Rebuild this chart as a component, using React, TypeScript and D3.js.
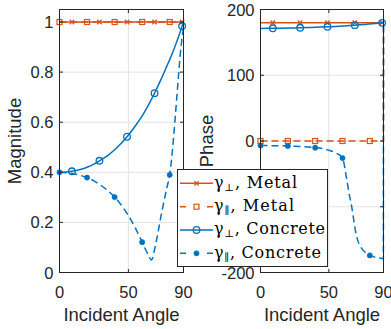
import React from 'react';
import * as d3 from 'd3';

// incident angle samples for the concrete curves (degrees)
const concreteAngles = [0, 5, 9, 15, 20, 25, 29, 35, 40, 45, 49, 55, 60, 63, 65, 66.5, 68, 69, 71, 73, 75, 78, 80, 82, 84, 86, 88, 89, 89.9, 90];
const concretePerpMag = [0.4, 0.401, 0.404, 0.411, 0.42, 0.433, 0.446, 0.467, 0.49, 0.517, 0.542, 0.585, 0.625, 0.653, 0.673, 0.689, 0.705, 0.716, 0.739, 0.763, 0.787, 0.825, 0.85, 0.877, 0.905, 0.935, 0.967, 0.984, 0.998, 1.0];
const concreteParMag = [0.4, 0.398, 0.395, 0.388, 0.379, 0.366, 0.352, 0.327, 0.301, 0.268, 0.236, 0.178, 0.121, 0.086, 0.064, 0.05, 0.065, 0.092, 0.145, 0.205, 0.262, 0.34, 0.39, 0.49, 0.62, 0.76, 0.89, 0.94, 0.978, 0.985];
const concretePerpPhase = [171.2, 171.3, 171.4, 171.6, 171.8, 172.0, 172.2, 172.6, 172.9, 173.3, 173.7, 174.3, 174.9, 175.3, 175.6, 175.8, 176.0, 176.2, 176.5, 176.8, 177.1, 177.6, 178.0, 178.3, 178.7, 179.1, 179.5, 179.7, 180, 180];
const concreteParPhase = [-7.0, -7.0, -7.1, -7.3, -7.5, -8.0, -8.5, -9.3, -10.2, -11.5, -13.5, -18, -26, -57, -82, -97, -117, -131, -150, -160, -166, -171.5, -174, -175.5, -176.7, -177.6, -178.4, -178.8, -179.2, 180];

// metal samples
const metalAngles = [0, 9, 20, 29, 40, 49, 60, 69, 80, 89, 89.9, 90];
const metalPerpMag = [1, 1, 1, 1, 1, 1, 1, 1, 1, 1, 1, 1];
const metalParMag = [1, 1, 1, 1, 1, 1, 1, 1, 1, 1, 1, 1];
const metalPerpPhase = [180, 180, 180, 180, 180, 180, 180, 180, 180, 180, 180, 180];
const metalParPhase = [0, 0, 0, 0, 0, 0, 0, 0, 0, 0, 0, 180];

const perpMarkerAngles = [9, 29, 49, 69, 89];
const parMarkerAngles = [0, 20, 40, 60, 80];

const xTicks = [0, 50, 90];
const magTicks = [0, 0.2, 0.4, 0.6, 0.8, 1];
const phaseTicks = [-200, -100, 0, 100, 200];

const legendNames = ['Metal', 'Metal', 'Concrete', 'Concrete'];
const legendSubs = ['\u22A5', '\u2225', '\u22A5', '\u2225'];

const BLUE = '#0072BD';
const ORANGE = '#D95319';
const AX = '#262626';
const GRID = '#e3e3e3';
const SANS = '"Liberation Sans", Arial, sans-serif';

type Marker = 'x' | 'square' | 'circle' | 'dot';
interface Series {
  angles: number[];
  values: number[];
  color: string;
  dashed: boolean;
  marker: Marker;
  markAt: number[];
}

function MarkerGlyph({ kind, cx, cy, color }: { kind: Marker; cx: number; cy: number; color: string }) {
  if (kind === 'x') {
    const s = 2.2;
    return (
      <path d={`M${cx - s},${cy - s}L${cx + s},${cy + s}M${cx - s},${cy + s}L${cx + s},${cy - s}`} stroke={color} strokeWidth={1.3} fill="none" />
    );
  }
  if (kind === 'square') {
    return <rect x={cx - 2.5} y={cy - 2.5} width={5} height={5} fill="none" stroke={color} strokeWidth={1.2} />;
  }
  if (kind === 'circle') {
    return <circle cx={cx} cy={cy} r={3.3} fill="none" stroke={color} strokeWidth={1.3} />;
  }
  return <circle cx={cx} cy={cy} r={2.6} fill={color} stroke={color} strokeWidth={0.6} />;
}

function Panel({ x0, x1, yDomain, yTicks, ylabel, ylabelX, series }: {
  x0: number; x1: number; yDomain: [number, number]; yTicks: number[]; ylabel: string; ylabelX: number; series: Series[];
}) {
  const top = 9.5;
  const bottom = 272.5;
  const x = d3.scaleLinear().domain([0, 90]).range([x0, x1]);
  const y = d3.scaleLinear().domain(yDomain).range([bottom, top]);
  const tl = 3.5;
  return (
    <g>
      <rect x={x0} y={top} width={x1 - x0} height={bottom - top} fill="#fff" />
      {xTicks.map(t => (
        <line key={'gx' + t} x1={x(t)} x2={x(t)} y1={top} y2={bottom} stroke={GRID} strokeWidth={1} />
      ))}
      {yTicks.map(t => (
        <line key={'gy' + t} x1={x0} x2={x1} y1={y(t)} y2={y(t)} stroke={GRID} strokeWidth={1} />
      ))}
      {series.map((s, i) => {
        const pts = s.angles.map((a, j) => [a, s.values[j]] as [number, number]);
        const line = d3.line<[number, number]>()
          .x(d => x(d[0]))
          .y(d => y(d[1]))
          .curve(d3.curveMonotoneX);
        return (
          <g key={'s' + i}>
            <path d={line(pts) || ''} fill="none" stroke={s.color} strokeWidth={1.5} strokeDasharray={s.dashed ? '7,4' : undefined} />
            {pts.filter(p => s.markAt.includes(p[0])).map((p, k) => (
              <MarkerGlyph key={k} kind={s.marker} cx={x(p[0])} cy={y(p[1])} color={s.color} />
            ))}
          </g>
        );
      })}
      <rect x={x0} y={top} width={x1 - x0} height={bottom - top} fill="none" stroke={AX} strokeWidth={1} />
      {xTicks.map(t => (
        <g key={'tx' + t}>
          <line x1={x(t)} x2={x(t)} y1={bottom} y2={bottom - tl} stroke={AX} />
          <line x1={x(t)} x2={x(t)} y1={top} y2={top + tl} stroke={AX} />
          <text x={x(t)} y={297.5} textAnchor="middle" fontFamily={SANS} fontSize={16.5} fill={AX}>{t}</text>
        </g>
      ))}
      {yTicks.map(t => (
        <g key={'ty' + t}>
          <line x1={x0} x2={x0 + tl} y1={y(t)} y2={y(t)} stroke={AX} />
          <line x1={x1} x2={x1 - tl} y1={y(t)} y2={y(t)} stroke={AX} />
          <text x={x0 - 6} y={y(t) + 6} textAnchor="end" fontFamily={SANS} fontSize={16.5} fill={AX}>{t}</text>
        </g>
      ))}
      <text x={(x0 + x1) / 2} y={321} textAnchor="middle" fontFamily={SANS} fontSize={18.5} fill={AX}>Incident Angle</text>
      <text transform={`translate(${ylabelX},${(top + bottom) / 2}) rotate(-90)`} textAnchor="middle" fontFamily={SANS} fontSize={18.5} fill={AX}>{ylabel}</text>
    </g>
  );
}

export default function App() {
  const magSeries: Series[] = [
    { angles: metalAngles, values: metalPerpMag, color: ORANGE, dashed: false, marker: 'x', markAt: perpMarkerAngles },
    { angles: metalAngles, values: metalParMag, color: ORANGE, dashed: true, marker: 'square', markAt: parMarkerAngles },
    { angles: concreteAngles, values: concretePerpMag, color: BLUE, dashed: false, marker: 'circle', markAt: perpMarkerAngles },
    { angles: concreteAngles, values: concreteParMag, color: BLUE, dashed: true, marker: 'dot', markAt: parMarkerAngles },
  ];
  const phaseSeries: Series[] = [
    { angles: metalAngles, values: metalPerpPhase, color: ORANGE, dashed: false, marker: 'x', markAt: perpMarkerAngles },
    { angles: metalAngles, values: metalParPhase, color: ORANGE, dashed: true, marker: 'square', markAt: parMarkerAngles },
    { angles: concreteAngles, values: concretePerpPhase, color: BLUE, dashed: false, marker: 'circle', markAt: perpMarkerAngles },
    { angles: concreteAngles, values: concreteParPhase, color: BLUE, dashed: true, marker: 'dot', markAt: parMarkerAngles },
  ];
  const legendRows = [183.3, 206.7, 230, 253.3];
  const legendLengths = [83, 80, 111, 107];
  return (
    <svg width={391} height={329} style={{ position: 'absolute', left: 0, top: 0, display: 'block' }}>
      <rect width={391} height={329} fill="#fff" />
      <Panel x0={59.5} x1={183.5} yDomain={[0, 1.05]} yTicks={magTicks} ylabel="Magnitude" ylabelX={21} series={magSeries} />
      <Panel x0={260.5} x1={383.5} yDomain={[-200, 200]} yTicks={phaseTicks} ylabel="Phase" ylabelX={213} series={phaseSeries} />
      <g>
        <rect x={177.5} y={169.5} width={150} height={97} fill="#fff" stroke={AX} strokeWidth={1} />
        {magSeries.map((s, i) => {
          const ry = legendRows[i];
          return (
            <g key={'lg' + i}>
              <line x1={180} x2={213} y1={ry} y2={ry} stroke={s.color} strokeWidth={1.5} strokeDasharray={s.dashed ? '6,21,6' : undefined} />
              <MarkerGlyph kind={s.marker} cx={196.5} cy={ry} color={s.color} />
              <text x={214} y={ry + 4.3} fontFamily='"DejaVu Serif", serif' fontSize={16} fill="#000" textLength={legendLengths[i]} lengthAdjust="spacing">
                {'\u03B3'}
                <tspan fontSize={10.5} dy={3}>{legendSubs[i]}</tspan>
                <tspan dy={-3}>{', ' + legendNames[i]}</tspan>
              </text>
            </g>
          );
        })}
      </g>
    </svg>
  );
}
